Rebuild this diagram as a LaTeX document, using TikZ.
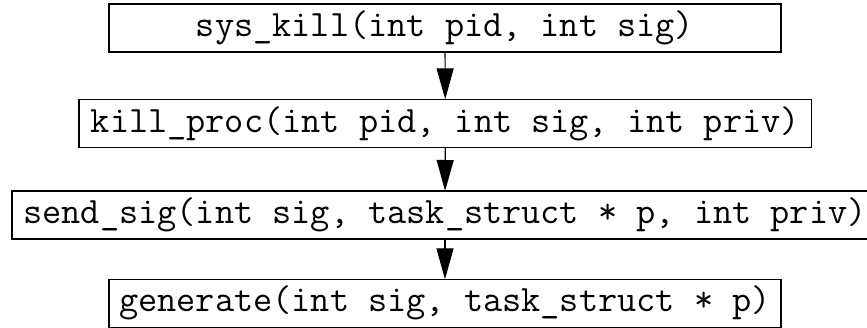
\documentclass[tikz,border=0pt]{standalone}
\usepackage{fontspec}
\usetikzlibrary{arrows.meta}
\begin{document}
\begin{tikzpicture}[x=1pt,y=-1pt,
  fnbox/.style={draw=black, line width=1.2pt, rectangle, inner sep=0pt, outer sep=0pt,
    minimum height=48pt, font=\ttfamily\fontsize{37.2}{42}\selectfont},
  callarrow/.style={draw=black, line width=1.2pt, -{Triangle[length=31pt,width=17pt]}}]
\useasboundingbox (0,0) rectangle (867,328);
\clip (0,0) rectangle (867,328);
\fill[white] (0,0) rectangle (867,328);
\node[fnbox, minimum width=672pt] (sk) at (445,28) {sys\_kill(int pid, int sig)};
\node[fnbox, minimum width=732.7pt, minimum height=48.4pt] (kp) at (445.3,123.5) {kill\_proc(int pid, int sig, int priv)};
\node[fnbox, draw=none, minimum width=866pt] (ss) at (445,215) {send\_sig(int sig, task\_struct * p, int priv)};
\draw[line width=1.2pt] ([xshift=20pt]ss.north east) -- (ss.north west) -- (ss.south west) -- ([xshift=20pt]ss.south east);
\node[fnbox, minimum width=672pt] (ge) at (445,303.3) {generate(int sig, task\_struct * p)};
\draw[callarrow] (sk) -- (kp);
\draw[callarrow] (kp) -- (ss);
\draw[callarrow] (ss) -- (ge);
\end{tikzpicture}
\end{document}
